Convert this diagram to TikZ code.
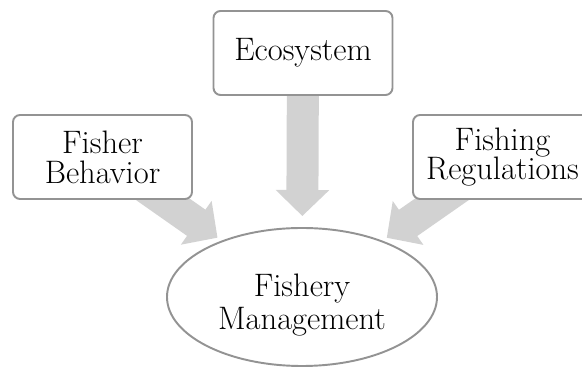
\documentclass[tikz,border=0pt]{standalone}
\usetikzlibrary{arrows.meta,positioning,shapes.geometric,backgrounds}
\tikzset{
  fisharr/.style={-{Triangle[width=1.04cm,length=0.52cm]}, line width=0.64cm, draw=gray!35},
  fishnode/.style={draw=gray!85, line width=1.1pt, fill=white, align=center},
}
\begin{document}
\begin{tikzpicture}[
  font=\fontsize{18.5}{17}\selectfont,
  topic/.style={fishnode, rounded corners=4pt, minimum width=3.58cm, minimum height=1.68cm},
]
  \useasboundingbox (0,0) rectangle (11.64,7.34);
  \node[topic] (eco) at (6.06,6.28) {Ecosystem};
  \node[topic] (beh) at (2.05,4.20) {Fisher\\Behavior};
  \node[topic] (reg) at (10.05,4.20) {Fishing\\Regulations};
  \node[fishnode, ellipse, inner sep=0pt, text height=1.45cm, text depth=0.13cm,
        minimum width=5.4cm, minimum height=2.76cm] (mgmt) at (6.04,1.40) {Fishery\\[0.08cm]Management};

  % fat arrows sit behind the boxes
  \begin{scope}[on background layer]
    \draw[fisharr, shorten >=0.22cm] (eco.center) -- (mgmt);
    \draw[fisharr, shorten >=0.1cm] (beh.center) -- (mgmt);
    \draw[fisharr, shorten >=0.1cm] (reg.center) -- (mgmt);
  \end{scope}
\end{tikzpicture}
\end{document}
